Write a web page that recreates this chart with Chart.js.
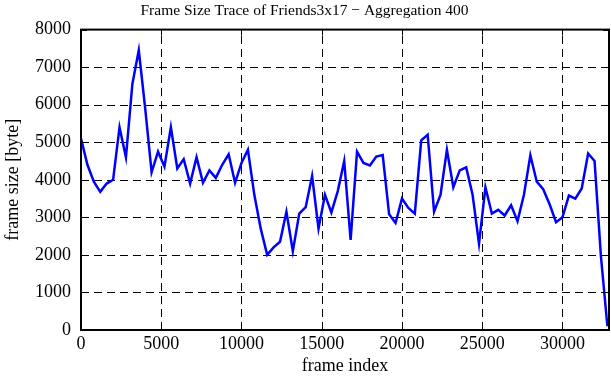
<!DOCTYPE html>
<html>
<head>
<meta charset="utf-8">
<script src="https://cdn.jsdelivr.net/npm/chart.js@4.4.1/dist/chart.umd.min.js"></script>
<style>
  body { margin: 0; background: #fff; }
  #wrap { width: 611px; height: 380px; }
</style>
</head>
<body>
<div id="wrap"><canvas id="traceChart"></canvas></div>
<script>
const frameIndex = [
    0, 400, 800, 1200, 1600, 2000, 2400, 2800, 3200, 3600,
    4000, 4400, 4800, 5200, 5600, 6000, 6400, 6800, 7200, 7600,
    8000, 8400, 8800, 9200, 9600, 10000, 10400, 10800, 11200, 11600,
    12000, 12400, 12800, 13200, 13600, 14000, 14400, 14800, 15200, 15600,
    16000, 16400, 16800, 17200, 17600, 18000, 18400, 18800, 19200, 19600,
    20000, 20400, 20800, 21200, 21600, 22000, 22400, 22800, 23200, 23600,
    24000, 24400, 24800, 25200, 25600, 26000, 26400, 26800, 27200, 27600,
    28000, 28400, 28800, 29200, 29600, 30000, 30400, 30800, 31200, 31600,
    32000, 32400, 32800
];
const frameSize = [
    5100, 4400, 3950, 3680, 3900, 4000, 5400, 4600, 6550, 7450,
    5900, 4200, 4750, 4350, 5400, 4300, 4550, 3900, 4600, 3920,
    4250, 4050, 4400, 4680, 3920, 4450, 4800, 3600, 2700, 2000,
    2200, 2350, 3150, 2100, 3100, 3270, 4100, 2700, 3600, 3130,
    3700, 4500, 2400, 4750, 4450, 4380, 4620, 4660, 3080, 2850,
    3500, 3250, 3100, 5050, 5200, 3150, 3600, 4800, 3800, 4250,
    4330, 3600, 2300, 3800, 3100, 3200, 3050, 3320, 2900, 3600,
    4650, 3950, 3750, 3350, 2870, 3000, 3580, 3500, 3770, 4700,
    4500, 1950, 100
];
const xTicks = [0, 5000, 10000, 15000, 20000, 25000, 30000];
const yTicks = [0, 1000, 2000, 3000, 4000, 5000, 6000, 7000, 8000];

const serif = 'Liberation Serif, Times New Roman, serif';

// dashed grid drawn by hand so the dash pattern is exact
const gridPlugin = {
    id: 'dashGrid',
    beforeDatasetsDraw(chart) {
        const { ctx, chartArea: a, scales } = chart;
        ctx.save();
        ctx.strokeStyle = '#000';
        ctx.lineWidth = 1;
        ctx.setLineDash([8, 5]);
        ctx.beginPath();
        xTicks.forEach(function(v) {
            if (v === 0) return;
            const px = Math.round(scales.x.getPixelForValue(v)) + 0.5;
            ctx.moveTo(px, a.bottom); ctx.lineTo(px, a.top);
        });
        yTicks.forEach(function(v) {
            if (v === 0 || v === 8000) return;
            const py = Math.round(scales.y.getPixelForValue(v)) + 0.5;
            ctx.moveTo(a.left, py); ctx.lineTo(a.right, py);
        });
        ctx.stroke();
        ctx.restore();
    }
};

// gnuplot style frame with inward ticks on all four sides
const framePlugin = {
    id: 'frame',
    afterDraw(chart) {
        const { ctx, chartArea: a, scales } = chart;
        ctx.save();
        ctx.strokeStyle = '#000';
        ctx.lineWidth = 1;
        ctx.beginPath();
        xTicks.forEach(function(v) {
            const px = Math.round(scales.x.getPixelForValue(v)) + 0.5;
            ctx.moveTo(px, a.top); ctx.lineTo(px, a.top + 6);
            ctx.moveTo(px, a.bottom); ctx.lineTo(px, a.bottom - 6);
        });
        yTicks.forEach(function(v) {
            const py = Math.round(scales.y.getPixelForValue(v)) + 0.5;
            ctx.moveTo(a.left, py); ctx.lineTo(a.left + 6, py);
            ctx.moveTo(a.right, py); ctx.lineTo(a.right - 6, py);
        });
        ctx.stroke();
        ctx.lineWidth = 2;
        ctx.strokeRect(a.left, a.top, a.right - a.left, a.bottom - a.top);
        ctx.restore();
    }
};

const points = frameIndex.map(function(f, i) { return { x: f, y: frameSize[i] }; });

new Chart(document.getElementById('traceChart').getContext('2d'), {
    type: 'line',
    data: {
        datasets: [{
            data: points,
            borderColor: '#0000ff',
            borderWidth: 2.5,
            pointRadius: 0,
            tension: 0,
            fill: false
        }]
    },
    options: {
        responsive: true,
        maintainAspectRatio: false,
        animation: false,
        layout: { padding: { left: 0, right: 2, top: 0, bottom: 0 } },
        plugins: {
            legend: { display: false },
            tooltip: { enabled: false },
            title: {
                display: true,
                text: 'Frame Size Trace of Friends3x17 \u2212 Aggregation 400',
                color: '#000',
                font: { family: serif, size: 15.5, weight: 'normal' },
                padding: { top: 2, bottom: 9 }
            }
        },
        scales: {
            x: {
                type: 'linear',
                min: 0,
                max: 32900,
                afterFit: function(scale) { scale.height = 50; },
                afterBuildTicks: function(scale) {
                    scale.ticks = xTicks.map(function(v) { return { value: v }; });
                },
                ticks: {
                    color: '#000',
                    padding: 3,
                    maxRotation: 0,
                    font: { family: serif, size: 18 },
                    callback: function(v) { return String(v); }
                },
                grid: { display: false, drawTicks: false },
                border: { display: false },
                title: {
                    display: true,
                    text: 'frame index',
                    color: '#000',
                    font: { family: serif, size: 18 },
                    padding: { top: 0, bottom: 3 }
                }
            },
            y: {
                min: 0,
                max: 8000,
                afterFit: function(scale) { scale.width = 81; },
                afterBuildTicks: function(scale) {
                    scale.ticks = yTicks.map(function(v) { return { value: v }; });
                },
                ticks: {
                    color: '#000',
                    padding: 10,
                    font: { family: serif, size: 18 },
                    callback: function(v) { return String(v); }
                },
                grid: { display: false, drawTicks: false },
                border: { display: false },
                title: {
                    display: true,
                    text: 'frame size [byte]',
                    color: '#000',
                    font: { family: serif, size: 18 },
                    padding: { top: 2, bottom: 0 }
                }
            }
        }
    },
    plugins: [gridPlugin, framePlugin]
});
</script>
</body>
</html>
